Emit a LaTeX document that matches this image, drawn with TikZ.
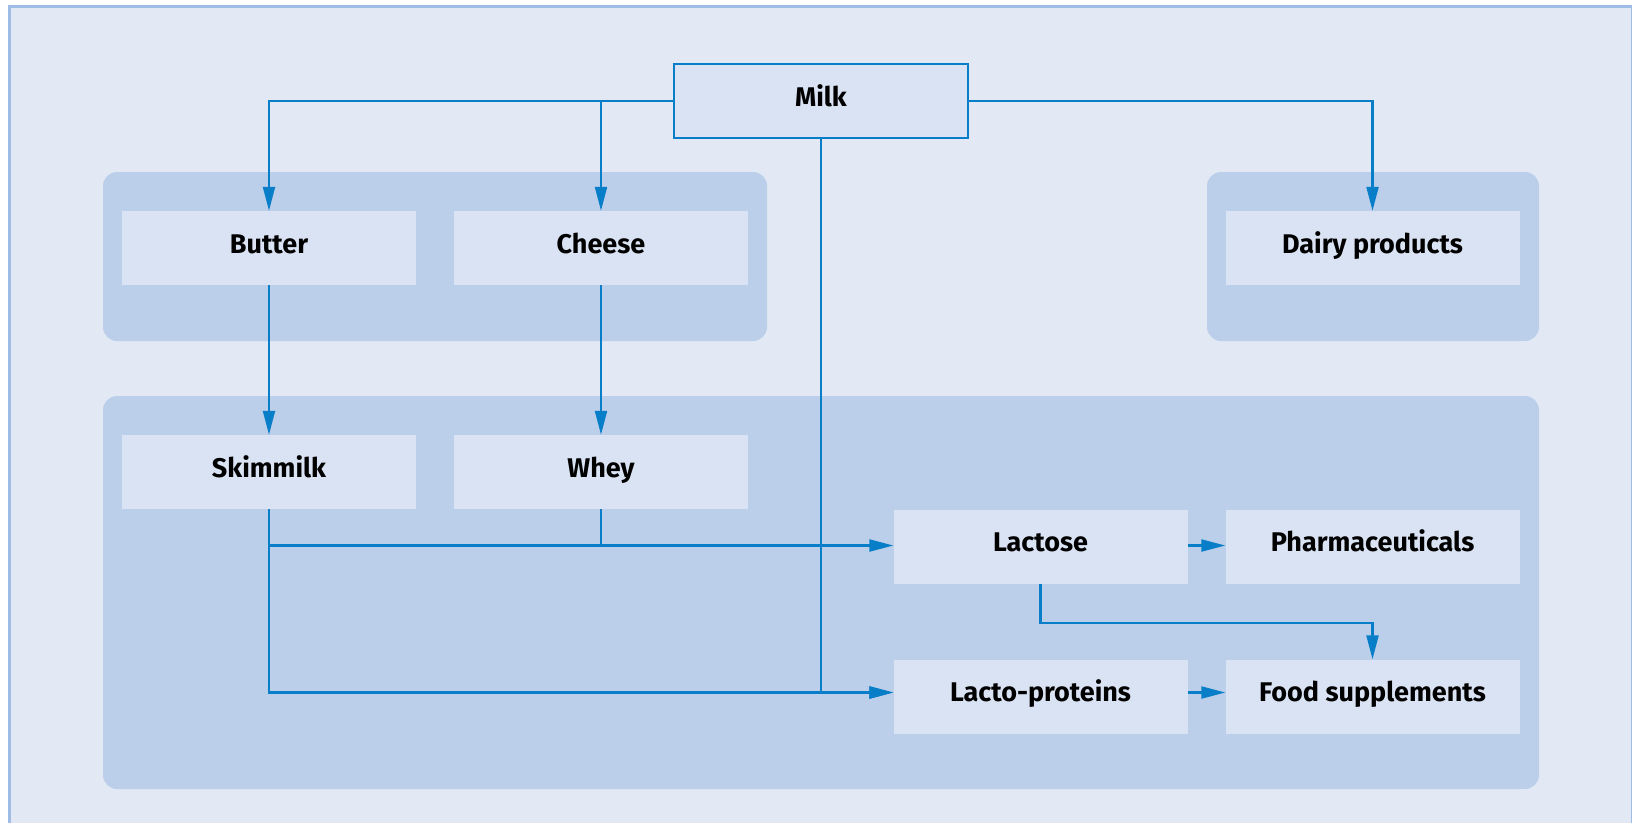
\documentclass[tikz,border=0pt]{standalone}
\usepackage{fontspec}
\setmainfont{Fira Sans}
\usepackage{xcolor}
\usepackage{tikz}
\usetikzlibrary{calc}
\usetikzlibrary{arrows.meta}

\definecolor{paper}{RGB}{226,233,245}
\definecolor{frameline}{RGB}{158,188,230}
\definecolor{groupfill}{RGB}{187,207,234}
\definecolor{boxfill}{RGB}{218,227,243}
\definecolor{flowblue}{RGB}{8,126,200}

\begin{document}
\begin{tikzpicture}[x=1pt,y=-1pt,
    item/.style={fill=boxfill,minimum width=294pt,minimum height=74pt,
        inner sep=0pt,text height=18pt,text depth=7.5pt,
        font={\fontsize{27}{32}\selectfont\bfseries}},
    source/.style={item,draw=flowblue,line width=1.6pt},
    group/.style={fill=groupfill,rounded corners=14pt},
    flow/.style={draw=flowblue,line width=2.2pt,
        -{Triangle[length=24pt,width=12pt]}},
    link/.style={draw=flowblue,line width=2.2pt},
    ]
    \useasboundingbox (0,0) rectangle (1632,823);
    % frame
    \fill[paper] (8,5) rectangle (1632,823);
    \draw[frameline,line width=3pt] (9.5,823) -- (9.5,6.5) -- (1632,6.5);
    \draw[frameline,line width=1pt] (1631,6.5) -- (1631,823);
    % grey-blue groups
    \fill[group] (103,172) rectangle (767,341);
    \fill[group] (1207,172) rectangle (1539,341);
    \fill[group] (103,396) rectangle (1539,789);
    % nodes
    \node[source] (milk) at (821,101) {Milk};
    \node[item] (butter) at (269,248) {Butter};
    \node[item] (cheese) at (601,248) {Cheese};
    \node[item] (dairy) at (1372.5,248) {Dairy products};
    \node[item] (skimmilk) at (269,472) {Skimmilk};
    \node[item] (whey) at (601,472) {Whey};
    \node[item] (lactose) at (1040.5,546.5) {Lactose};
    \node[item] (pharma) at (1372.5,546.5) {Pharmaceuticals};
    \node[item] (lactoprot) at (1040.5,696.5) {Lacto-proteins};
    \node[item] (food) at (1372.5,696.5) {Food supplements};
    % connectors
    \coordinate (lacin) at ([yshift=1pt]lactose.west);
    \coordinate (protin) at ([yshift=4pt]lactoprot.west);
    \draw[flow] (milk.west) -| (butter.north);
    \draw[flow] (cheese |- milk.west) -- (cheese.north);
    \draw[flow] (milk.east) -| (dairy.north);
    \draw[flow] (butter.south) -- (skimmilk.north);
    \draw[flow] (cheese.south) -- (whey.north);
    \draw[flow] (skimmilk.south) |- (protin);
    \draw[flow] (milk.south) |- (protin);
    \draw[flow] (skimmilk |- lacin) -- (lacin);
    \draw[link] (whey.south) -- (whey |- lacin);
    \draw[flow] (lactose.east |- lacin) -- (pharma.west |- lacin);
    \draw[flow] (lactoprot.east |- protin) -- (food.west |- protin);
    \draw[flow] (lactose.south) -- ++(0,39) -| (food.north);
\end{tikzpicture}
\end{document}
